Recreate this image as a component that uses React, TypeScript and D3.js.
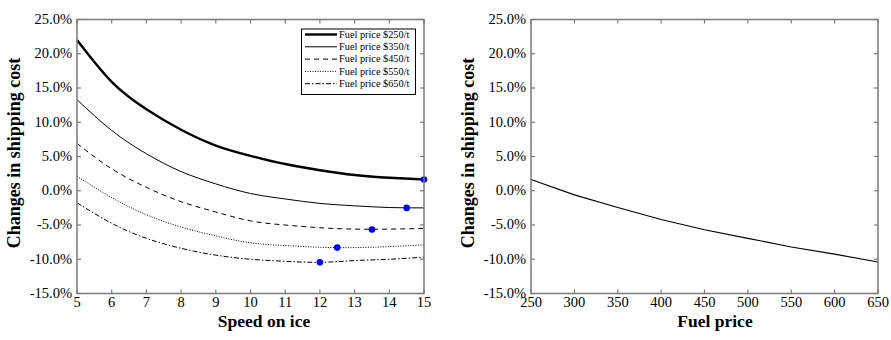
import React from 'react';
import * as d3 from 'd3';

// speed on ice (knots) and cost change (%) per fuel price
const speeds = [5, 6, 7, 8, 9, 10, 11, 12, 13, 14, 15];
const cost250 = [22.0, 15.9, 11.9, 8.9, 6.6, 5.1, 3.9, 3.0, 2.3, 1.9, 1.65];
const cost350 = [13.3, 8.8, 5.4, 2.8, 1.0, -0.4, -1.2, -1.85, -2.2, -2.45, -2.5];
const cost450 = [6.9, 3.2, 0.5, -1.6, -3.1, -4.4, -5.0, -5.4, -5.6, -5.6, -5.5];
const cost550 = [2.1, -1.0, -3.5, -5.3, -6.6, -7.6, -8.0, -8.25, -8.3, -8.15, -7.9];
const cost650 = [-1.75, -4.75, -6.95, -8.4, -9.4, -10.0, -10.3, -10.45, -10.2, -10.0, -9.7];
const seriesNames = ['Fuel price $250/t', 'Fuel price $350/t', 'Fuel price $450/t', 'Fuel price $550/t', 'Fuel price $650/t'];

// optimal speed markers
const optimumSpeed = [15, 14.5, 13.5, 12.5, 12];
const optimumCost = [1.65, -2.5, -5.65, -8.3, -10.45];

// right panel
const fuelPrices = [250, 300, 350, 400, 450, 500, 550, 600, 650];
const minCost = [1.65, -0.6, -2.45, -4.2, -5.7, -6.95, -8.2, -9.25, -10.4];

const yTicks = [-15, -10, -5, 0, 5, 10, 15, 20, 25];

const FONT = '"Liberation Serif", "Times New Roman", serif';
const FRAME = '#7a7a7a';

const styles = [
    { width: 2.4, dash: '' },
    { width: 1, dash: '' },
    { width: 1, dash: '5,4' },
    { width: 1, dash: '1,1.5' },
    { width: 1, dash: '5,2,1.5,2' },
];

interface PanelProps {
    x: d3.ScaleLinear<number, number>;
    y: d3.ScaleLinear<number, number>;
    xTicks: number[];
    xTitle: string;
    xTitleX: number;
    children?: React.ReactNode;
}

const Panel: React.FC<PanelProps> = ({ x, y, xTicks, xTitle, xTitleX, children }) => {
    const [x0, x1] = x.range();
    const [y0, y1] = y.range(); // y0 bottom, y1 top
    const tl = 4;
    return (
        <g>
            {children}
            {/* frame */}
            <rect x={x0} y={y1} width={x1 - x0} height={y0 - y1} fill="none" stroke={FRAME} strokeWidth={1.5} />
            {/* y ticks */}
            {yTicks.map((t) => (
                <g key={'y' + t}>
                    <line x1={x0} x2={x0 + tl} y1={y(t)} y2={y(t)} stroke={FRAME} strokeWidth={1.2} />
                    <line x1={x1} x2={x1 - tl} y1={y(t)} y2={y(t)} stroke={FRAME} strokeWidth={1.2} />
                    <text x={x0 - 5} y={y(t) - 0.5} dy="0.33em" textAnchor="end" fontSize={14.5} fontFamily={FONT}>
                        {t.toFixed(1) + '%'}
                    </text>
                </g>
            ))}
            {/* x ticks */}
            {xTicks.map((t) => (
                <g key={'x' + t}>
                    <line x1={x(t)} x2={x(t)} y1={y0} y2={y0 - tl} stroke={FRAME} strokeWidth={1.2} />
                    <line x1={x(t)} x2={x(t)} y1={y1} y2={y1 + tl} stroke={FRAME} strokeWidth={1.2} />
                    <text x={x(t)} y={307} textAnchor="middle" fontSize={14.5} fontFamily={FONT}>
                        {t}
                    </text>
                </g>
            ))}
            <text x={xTitleX} y={326.5} textAnchor="middle" fontSize={17.5} fontWeight="bold" fontFamily={FONT}>
                {xTitle}
            </text>
            <text
                transform={`translate(${x0 - 57.5},153) rotate(-90)`}
                textAnchor="middle"
                fontSize={18}
                fontWeight="bold"
                fontFamily={FONT}
            >
                Changes in shipping cost
            </text>
        </g>
    );
};

const App: React.FC = () => {
    const yScale = d3.scaleLinear().domain([-15, 25]).range([293.5, 19.5]);
    const xLeft = d3.scaleLinear().domain([5, 15]).range([77, 424]);
    const xRight = d3.scaleLinear().domain([250, 650]).range([531, 878]);

    const allSeries = [cost250, cost350, cost450, cost550, cost650];

    const speedLine = d3
        .line<number>()
        .x((_, i) => xLeft(speeds[i]))
        .y((d) => yScale(d))
        .curve(d3.curveNatural);

    const priceLine = d3
        .line<number>()
        .x((_, i) => xRight(fuelPrices[i]))
        .y((d) => yScale(d));

    // legend
    const lgX = 301.5;
    const lgY = 29;
    const rowH = 12.3;

    return (
        <svg width={891} height={340} style={{ position: 'absolute', left: 0, top: 0, background: '#fff' }}>
            <Panel x={xLeft} y={yScale} xTicks={speeds} xTitle="Speed on ice" xTitleX={264}>
                {allSeries.map((s, i) => (
                    <path
                        key={i}
                        d={speedLine(s) || ''}
                        fill="none"
                        stroke="#000"
                        strokeWidth={styles[i].width}
                        strokeDasharray={styles[i].dash}
                    />
                ))}
                {optimumSpeed.map((s, i) => (
                    <circle key={'o' + i} cx={xLeft(s)} cy={yScale(optimumCost[i])} r={3.3} fill="#0000ff" />
                ))}
            </Panel>

            {/* legend */}
            <g>
                <rect x={lgX} y={lgY} width={114} height={65.5} fill="#fff" stroke="#000" strokeWidth={1} />
                {seriesNames.map((name, i) => {
                    const cy = lgY + 5.5 + rowH * i;
                    return (
                        <g key={name}>
                            <line
                                x1={lgX + 3.5}
                                x2={lgX + 35.5}
                                y1={cy}
                                y2={cy}
                                stroke="#000"
                                strokeWidth={styles[i].width}
                                strokeDasharray={styles[i].dash}
                            />
                            <text x={lgX + 37.5} y={cy} dy="0.33em" fontSize={10.3} fontFamily={FONT}>
                                {name}
                            </text>
                        </g>
                    );
                })}
            </g>

            <Panel x={xRight} y={yScale} xTicks={fuelPrices} xTitle="Fuel price" xTitleX={715}>
                <path d={priceLine(minCost) || ''} fill="none" stroke="#000" strokeWidth={1.1} />
            </Panel>
        </svg>
    );
};

export default App;
